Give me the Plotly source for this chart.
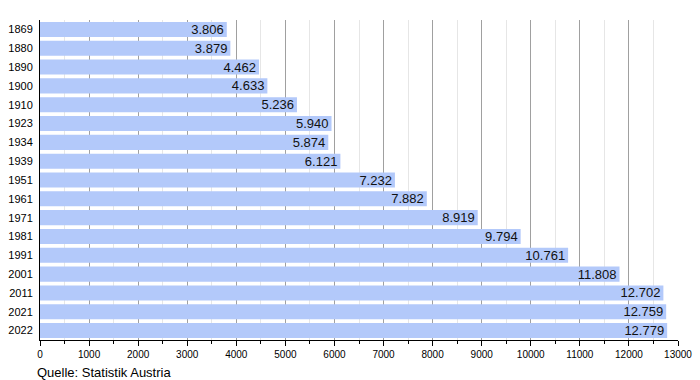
import plotly.graph_objects as go

years = ["1869", "1880", "1890", "1900", "1910", "1923", "1934", "1939", "1951",
         "1961", "1971", "1981", "1991", "2001", "2011", "2021", "2022"]
population = [3806, 3879, 4462, 4633, 5236, 5940, 5874, 6121, 7232,
              7882, 8919, 9794, 10761, 11808, 12702, 12759, 12779]
labels = [f"{v:,}".replace(",", ".") for v in population]
x_ticks = list(range(0, 13001, 1000))

fig = go.Figure(go.Bar(
    y=years, x=population, orientation="h",
    marker=dict(color="#b3c9fa", line=dict(width=0)),
    text=labels, textposition="inside", insidetextanchor="end",
    textfont=dict(color="#111111", size=13, family="Liberation Sans, Arial"),
    constraintext="none", cliponaxis=False, hoverinfo="skip",
))

fig.update_layout(
    width=700, height=380,
    margin=dict(l=40, r=22, t=20, b=40, autoexpand=False),
    plot_bgcolor="white", paper_bgcolor="white",
    bargap=0.2, showlegend=False,
    font=dict(family="Liberation Sans, Arial", color="black"),
    xaxis=dict(
        range=[0, 13000], tickvals=x_ticks, ticktext=[str(t) for t in x_ticks],
        showgrid=True, gridcolor="#a0a0a0", gridwidth=1,
        showline=True, linecolor="black", linewidth=1,
        ticks="outside", ticklen=5, tickcolor="black",
        tickfont=dict(size=10), automargin=False,
        minor=dict(dtick=500, tick0=0, showgrid=True, gridcolor="#e6e6e6",
                   ticks="outside", ticklen=3, tickcolor="black"),
        zeroline=False, fixedrange=True,
    ),
    yaxis=dict(
        type="category", autorange="reversed", automargin=False,
        showline=True, linecolor="black", linewidth=1,
        ticks="", tickfont=dict(size=11), showgrid=False, ticklabelstandoff=4,
    ),
    annotations=[dict(text="Quelle: Statistik Austria", xref="paper", yref="paper",
                      x=-0.008, y=-0.072, xanchor="left", yanchor="top",
                      showarrow=False, font=dict(size=13, color="black"))],
)

fig.write_html("out.html", config={"displayModeBar": False},
               post_script="document.body.style.margin='0';document.body.style.overflow='hidden';")
